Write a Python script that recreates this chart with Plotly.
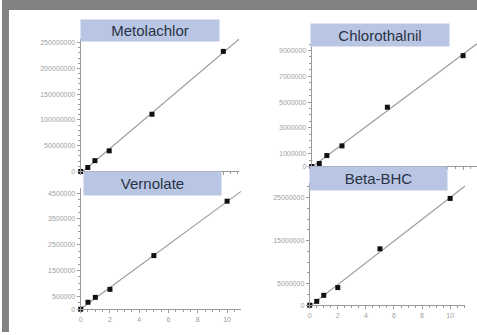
import numpy as np
import plotly.graph_objects as go

W, H = 477, 335

# ---- data ----
conc = [0, 0.5, 1, 2, 5, 10]
metolachlor = [0, 7.7e6, 21e6, 40e6, 111e6, 233e6]
chlorothalnil = [0, 0.23e6, 0.85e6, 1.6e6, 4.6e6, 8.6e6]
vernolate = [0, 0.27e6, 0.46e6, 0.77e6, 2.08e6, 4.19e6]
beta_bhc = [0, 0.9e6, 2.3e6, 4.1e6, 13.1e6, 24.8e6]

names = ["Metolachlor", "Chlorothalnil", "Vernolate", "Beta-BHC"]
series = [metolachlor, chlorothalnil, vernolate, beta_bhc]

yticks_met = [0, 50000000, 100000000, 150000000, 200000000, 250000000]
yticks_chl = [0, 1000000, 3000000, 5000000, 7000000, 9000000]
yticks_ver = [0, 500000, 1500000, 2500000, 3500000, 4500000]
yticks_bhc = [0, 5000000, 15000000, 25000000]
yticks = [yticks_met, yticks_chl, yticks_ver, yticks_bhc]
xticks = [0, 2, 4, 6, 8, 10]

# ---- layout (pixel geometry) ----
panels = [
    dict(px=(79, 238, 39, 173), xmax=11.1, ymax=257.7e6, yminor=10e6, showx=False),
    dict(px=(311, 477, 42, 168), xmax=10.92, ymax=9.69e6, yminor=0.5e6, showx=False),
    dict(px=(79, 240, 190, 312), xmax=10.95, ymax=4.69e6, yminor=0.25e6, showx=True),
    dict(px=(309, 465, 185, 308), xmax=11.06, ymax=28.3e6, yminor=2.5e6, showx=True),
]
title_boxes = [(80, 218, 20, 41), (311, 449, 24, 46), (83, 220, 174, 197), (310, 447, 169, 192)]

fig = go.Figure()
axis_col = "#9a9a9a"
tick_font = dict(family="Liberation Sans, Arial", size=7, color="#a0a0a0")

for i, (name, ys, p) in enumerate(zip(names, series, panels)):
    k = "" if i == 0 else str(i + 1)
    x0, x1, yt, yb = p["px"]
    slope, icpt = np.polyfit(conc, ys, 1)
    lx = [0, p["xmax"]]
    ly = [icpt, icpt + slope * p["xmax"]]
    fig.add_trace(go.Scatter(x=lx, y=ly, mode="lines", line=dict(color="#9c9c9c", width=1.2),
                             xaxis="x" + k, yaxis="y" + k, showlegend=False, hoverinfo="skip"))
    fig.add_trace(go.Scatter(x=conc, y=ys, mode="markers",
                             marker=dict(symbol="square", size=5, color="#111111"),
                             xaxis="x" + k, yaxis="y" + k, showlegend=False, cliponaxis=False))
    fig.update_layout(**{
        "xaxis" + k: dict(domain=[x0 / W, x1 / W], range=[0, p["xmax"]], anchor="y" + k,
                          tickvals=xticks, showticklabels=p["showx"], showgrid=False, zeroline=False,
                          showline=True, linecolor=axis_col, linewidth=1, ticks="outside",
                          ticklen=3, tickcolor=axis_col, tickfont=tick_font,
                          minor=dict(ticks="outside", ticklen=2, dtick=0.5, tick0=0, tickcolor=axis_col)),
        "yaxis" + k: dict(domain=[1 - yb / H, 1 - yt / H], range=[0, p["ymax"]], anchor="x" + k,
                          tickvals=yticks[i], ticktext=[str(v) for v in yticks[i]],
                          showgrid=False, zeroline=False, showline=True, linecolor=axis_col,
                          linewidth=1, ticks="outside", ticklen=3, tickcolor=axis_col,
                          tickfont=tick_font,
                          minor=dict(ticks="outside", ticklen=2, dtick=p["yminor"], tick0=0,
                                     tickcolor=axis_col)),
    })

# title boxes
for name, (bx0, bx1, by0, by1) in zip(names, title_boxes):
    fig.add_annotation(xref="paper", yref="paper", x=(bx0 + bx1) / 2 / W, y=1 - (by0 + by1) / 2 / H,
                       xanchor="center", yanchor="middle", text=name, showarrow=False,
                       width=bx1 - bx0, height=by1 - by0, bgcolor="#b8c6e4", borderpad=0,
                       font=dict(family="Liberation Sans, Arial", size=15, color="#2a3245"))

# gray slide frame
fig.add_shape(type="rect", xref="paper", yref="paper", x0=0, x1=1, y0=1 - 10 / H, y1=1,
              fillcolor="#828282", line=dict(width=0), layer="above")
fig.add_shape(type="rect", xref="paper", yref="paper", x0=0, x1=7 / W, y0=0, y1=1,
              fillcolor="#828282", line=dict(width=0), layer="above")

fig.update_layout(width=W, height=H, margin=dict(l=0, r=0, t=0, b=0),
                  paper_bgcolor="white", plot_bgcolor="white", showlegend=False)

fig.write_html("out.html", config={"displayModeBar": False},
               post_script="document.body.style.margin='0';document.body.style.overflow='hidden';")
